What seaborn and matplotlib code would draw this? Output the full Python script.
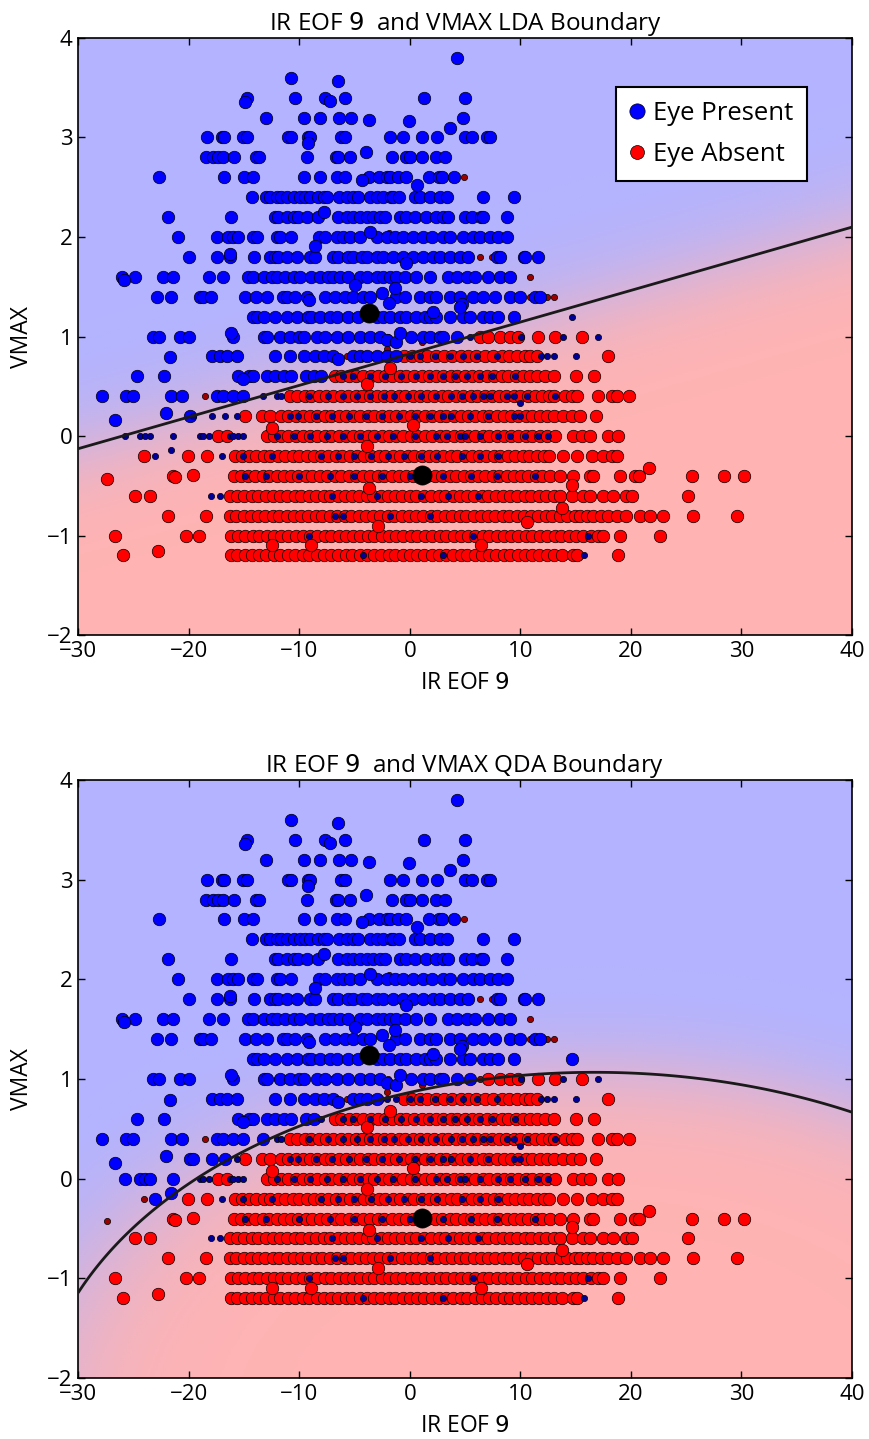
import numpy as np
import pandas as pd
import matplotlib
matplotlib.use("Agg")
import matplotlib.pyplot as plt
from matplotlib import colors
from matplotlib.lines import Line2D
import seaborn as sns

# ---------------------------------------------------------------------------
# Observations: standardised IR EOF 9 (x) against standardised VMAX (y).
# VMAX comes in steps of 0.2, so each class is stored row by row,
# plus a handful of points that sit between rows.
# ---------------------------------------------------------------------------
present_rows = {
    3.8: [4.3],
    3.6: [-10.7],
    3.4: [-14.7, -10.4, -7.7, -5.9, 1.3, 5.0],
    3.2: [-13.0, -9.6, -8.1, -6.4, -5.3, 4.8],
    3.0: [-18.3, -17.0, -16.8, -15.1, -14.7, -11.0, -10.7, -9.2, -9.0, -6.2, -5.9,
          -1.8, -0.6, 1.1, 2.5, 5.0, 5.6, 7.0, 7.3],
    2.8: [-18.4, -17.8, -17.3, -16.9, -15.9, -13.9, -13.6, -9.3, -6.7, -6.5, -5.4,
          -1.6, -0.3, 0.0, 1.1, 2.4, 3.2],
    2.6: [-22.7, -16.8, -15.0, -14.2, -9.6, -8.1, -6.6, -5.9, -3.7, -2.8, -2.1, -1.8,
          -1.1, -0.3, 1.7, 2.6, 2.9, 4.0],
    2.4: [-14.3, -13.0, -12.6, -12.0, -11.6, -11.1, -10.5, -9.9, -9.5, -9.0, -8.3,
          -7.8, -7.5, -6.4, -5.7, -5.1, -4.65, -3.6, -3.0, -2.4, -1.7, -1.5, -0.95,
          0.5, 0.9, 1.8, 2.7, 3.35, 6.65, 9.4],
    2.2: [-21.9, -16.2, -12.2, -11.9, -11.1, -10.5, -10.1, -9.3, -8.3, -6.45, -5.7,
          -5.1, -4.5, -3.9, -3.3, -2.7, -2.2, -0.9, -0.3, 0.5, 1.5, 2.4, 3.0, 3.5,
          5.0, 5.6, 6.4, 6.65, 8.8],
    2.0: [-21.0, -17.4, -16.4, -15.95, -15.5, -14.2, -13.85, -12.0, -11.7, -10.7,
          -8.2, -7.7, -6.6, -6.0, -5.4, -4.5, -3.0, -2.1, -1.35, -0.6, 0.3, 1.2, 2.0,
          3.0, 3.65, 4.85, 5.75, 6.35, 7.25, 8.0, 8.8],
    1.8: [-20.0, -17.4, -16.25, -14.1, -12.6, -12.2, -11.9, -11.1, -10.2, -9.0, -8.6,
          -6.9, -6.45, -5.55, -5.1, -4.35, -3.9, -3.0, -2.4, -1.5, -0.6, 0.3, 1.2, 2.1,
          2.7, 3.65, 4.55, 5.3, 7.85, 8.15, 10.3, 10.4, 11.6],
    1.6: [-26.05, -24.85, -22.3, -21.4, -18.2, -16.9, -14.6, -14.15, -13.2, -12.5,
          -12.0, -11.3, -10.5, -9.9, -8.9, -8.1, -7.4, -6.9, -6.3, -5.55, -4.5, -3.9,
          -3.0, -2.4, -1.8, -1.2, -0.45, 0.6, 1.8, 3.5, 4.25, 5.15, 5.9, 7.1, 8.15, 9.05],
    1.4: [-22.9, -21.6, -19.0, -18.7, -18.0, -14.9, -13.9, -12.9, -11.5, -11.1, -10.4,
          -9.3, -7.7, -6.8, -5.85, -5.1, -4.2, -3.6, -1.2, -0.45, 0.9, 1.8, 2.4, 3.65,
          4.55, 5.75, 6.65, 7.7, 9.05, 9.95, 11.3, 11.8],
    1.2: [-14.15, -13.85, -13.2, -12.2, -11.1, -10.2, -9.2, -8.9, -8.1, -7.2, -6.6,
          -5.55, -4.65, -3.0, -2.4, -1.8, -0.9, -0.3, 0.6, 1.4, 1.8, 2.4, 3.65, 4.85,
          5.45, 6.65, 7.25, 8.0, 9.4, 14.7],
    1.0: [-23.2, -22.65, -20.8, -20.0, -15.95, -13.2, -12.9, -11.7, -10.8, -10.05,
          -9.6, -8.4, -7.7, -6.6, -5.55, -4.5, -3.6, -2.7, 0.15, 1.2, 1.8, 2.7, 3.0,
          4.25, 5.45, 10.1, 13.9, 17.0],
    0.8: [-17.85, -17.15, -16.55, -15.65, -12.2, -10.8, -9.6, -8.6, -7.8, -6.9, -5.1,
          -4.5, -3.9, -3.0, -2.1, -1.2, 0.0, 0.9, 2.3, 3.65, 4.85, 6.05, 7.85, 11.9,
          12.4, 13.0, 15.0],
    0.6: [-24.7, -22.2, -15.5, -14.5, -14.15, -12.9, -12.2, -11.4, -10.7, -9.4, -8.7,
          -8.0, -6.0, -5.1, -3.6, -2.2, -0.8, 0.6, 1.8, 3.0, 4.1, 5.15, 6.35, 7.4, 9.5],
    0.4: [-27.8, -25.65, -25.0, -21.6, -20.6, -17.45, -16.85, -15.95, -15.05, -13.25,
          -12.0, -11.6, -9.1, -7.4, -6.0, -4.8, -3.6, -2.3, -1.4, -0.2, 1.0, 2.4, 3.75,
          4.7, 5.75, 6.65, 7.25, 8.8, 9.4, 10.6, 13.1],
    0.2: [-19.9, -19.6, -17.85, -16.7, -15.65, -10.8, -10.1, -8.5, -7.0, -5.5, -4.0,
          -2.5, -1.0, 0.5, 1.8, 3.0, 3.75, 5.45, 7.1, 9.4, 10.0],
    0.0: [-25.75, -24.4, -23.9, -23.5, -21.4, -19.0, -18.7, -18.2, -16.25, -15.95,
          -15.5, -15.05, -12.0, -10.5, -9.0, -7.5, -6.0, -4.5, -3.0, -1.5, 0.5, 2.4,
          3.35, 4.55, 5.0, 6.35, 8.0, 9.05, 10.4, 11.6, 12.5],
    -0.2: [-23.0, -17.0, -15.1, -12.5, -8.0, -6.5, -5.0, -3.5, -2.0, -0.5, 1.0, 2.5,
           4.7, 6.35, 8.0],
    -0.4: [-14.9, -13.0, -10.0, -7.2, -5.0, -2.5, 0.0, 3.0, 5.5, 7.85, 11.3],
    -0.6: [-18.0, -17.15, -7.0, -3.0, 1.0, 3.5, 6.2],
    -0.8: [-6.75, -6.0, -1.8, 1.8],
    -1.0: [-9.1, 5.75, 16.15],
    -1.2: [-4.2, 3.0, 15.8],
}
present_between = [
    (-6.5, 3.57), (-14.9, 3.36), (-7.2, 3.37), (-3.7, 3.18), (-0.1, 3.17), (3.6, 3.10),
    (-9.2, 2.94), (-4.0, 2.85), (-4.3, 2.57), (0.7, 2.52), (-7.8, 2.25), (-8.6, 1.91),
    (-3.6, 2.05), (-16.25, 1.83), (-0.3, 1.74), (-25.8, 1.57), (-4.95, 1.52),
    (-1.35, 1.49), (-9.1, 1.37), (-2.5, 1.44), (-1.9, 1.34), (4.7, 1.33), (4.55, 1.30),
    (2.1, 1.25), (-16.2, 1.04), (-2.1, 0.96), (-1.2, 0.94), (-0.9, 1.04),
    (-21.7, 0.79), (-6.45, 0.77), (-15.05, 0.57), (10.0, 0.33), (-26.7, 0.16),
    (-22.05, 0.23), (-21.6, -0.14),
]

absent_rows = {
    2.6: [4.9],
    1.8: [6.35, 7.4],
    1.6: [10.9],
    1.4: [10.9, 12.4, 13.0],
    1.2: [-5.5],
    1.0: [-12.0, -7.0, -2.0, 0.5, 3.0, 6.35, 7.1, 8.15, 9.05, 9.8, 11.6, 13.1, 15.6],
    0.8: [-8.9, -5.7, -2.6, -0.5, 0.2, 0.9, 1.6, 2.4, 3.1, 3.8, 4.6, 5.3, 6.0, 6.8, 7.5,
          8.3, 9.0, 9.7, 10.4, 10.9, 11.5, 17.9],
    0.6: [-6.8, -6.2, -5.5, -4.9, -4.2, -3.5, -2.9, -2.2, -1.6, -0.9, -0.3, 0.4, 1.1,
          1.7, 2.4, 3.0, 3.7, 4.3, 5.0, 5.6, 6.3, 7.0, 7.6, 8.3, 8.9, 9.6, 10.2, 10.9,
          11.5, 12.2, 13.0, 15.0, 16.7],
    0.4: [-18.5, -10.8, -10.2, -9.5, -8.9, -8.2, -7.6, -6.9, -6.2, -5.6, -4.9, -4.3,
          -3.6, -3.0, -2.3, -1.7, -1.0, -0.4, 0.3, 0.9, 1.6, 2.2, 2.9, 3.5, 4.2, 4.8,
          5.5, 6.1, 6.8, 7.4, 8.1, 8.7, 9.4, 10.0, 10.7, 11.3, 12.0, 12.6, 13.0, 14.0,
          14.65, 15.1, 17.05, 18.3, 18.7, 19.8],
    0.2: [-14.9, -13.4, -12.6, -11.6, -11.0, -10.3, -9.7, -9.0, -8.4, -7.7, -7.1, -6.4,
          -5.8, -5.1, -4.5, -3.8, -3.2, -2.5, -1.9, -1.2, -0.6, 0.1, 0.7, 1.4, 2.0, 2.7,
          3.3, 4.0, 4.6, 5.3, 5.9, 6.6, 7.2, 7.9, 8.5, 9.2, 9.8, 10.5, 11.1, 11.8, 12.4,
          13.0, 13.9, 14.65, 15.4, 16.85],
    0.0: [-17.3, -16.55, -12.9, -12.3, -11.6, -11.0, -10.3, -9.7, -9.0, -8.4, -7.7,
          -7.1, -6.4, -5.8, -5.1, -4.5, -3.8, -3.2, -2.5, -1.9, -1.2, -0.6, 0.1, 0.7,
          1.4, 2.0, 2.7, 3.3, 4.0, 4.6, 5.3, 5.9, 6.6, 7.2, 7.9, 8.5, 9.2, 9.8, 10.5,
          11.1, 11.8, 12.4, 13.1, 14.8, 15.55, 16.3, 17.9, 18.8],
    -0.2: [-24.0, -20.1, -18.3, -15.8, -15.2, -14.5, -13.9, -13.2, -12.6, -11.9, -11.3,
           -10.6, -10.0, -9.3, -8.7, -8.0, -7.4, -6.7, -6.1, -5.4, -4.8, -4.1, -3.5,
           -2.8, -2.2, -1.5, -0.9, -0.2, 0.4, 1.1, 1.7, 2.4, 3.0, 3.7, 4.3, 5.0, 5.6,
           6.3, 6.9, 7.6, 8.2, 8.9, 9.5, 10.2, 10.8, 11.5, 12.1, 12.6, 13.9, 15.1,
           16.5, 17.5, 18.3, 18.7],
    -0.4: [-21.4, -15.9, -15.3, -14.6, -14.0, -13.3, -12.7, -12.0, -11.4, -10.7, -10.1,
           -9.4, -8.8, -8.1, -7.5, -6.8, -6.2, -5.5, -4.9, -4.2, -3.6, -2.9, -2.3, -1.6,
           -1.0, -0.3, 0.3, 1.0, 1.6, 2.3, 2.9, 3.6, 4.2, 4.9, 5.5, 6.2, 6.8, 7.5, 8.1,
           8.8, 9.4, 10.1, 10.7, 11.4, 12.0, 12.7, 13.6, 14.8, 16.3, 16.6, 19.0, 20.4,
           20.7, 25.5, 28.4, 30.2],
    -0.6: [-24.85, -23.5, -16.3, -15.6, -15.0, -14.3, -13.7, -13.0, -12.4, -11.7,
           -11.1, -10.4, -9.8, -9.1, -8.5, -7.8, -7.2, -6.5, -5.9, -5.2, -4.6, -3.9,
           -3.3, -2.6, -2.0, -1.3, -0.7, 0.0, 0.6, 1.3, 1.9, 2.6, 3.2, 3.9, 4.5, 5.2,
           5.8, 6.5, 7.1, 7.8, 8.4, 9.1, 9.7, 10.4, 11.0, 11.7, 12.3, 13.0, 13.6, 14.65,
           15.7, 16.3, 17.5, 18.4, 19.6, 20.1, 25.2],
    -0.8: [-21.9, -18.4, -16.3, -15.7, -15.0, -14.4, -13.7, -13.1, -12.4, -11.8, -11.1,
           -10.5, -9.8, -9.2, -8.5, -7.9, -7.2, -6.6, -5.9, -5.3, -4.6, -4.0, -3.3,
           -2.7, -2.0, -1.4, -0.7, -0.1, 0.6, 1.2, 1.9, 2.5, 3.2, 3.8, 4.5, 5.1, 5.8,
           6.4, 7.1, 7.7, 8.4, 9.0, 9.7, 10.3, 11.0, 11.6, 12.3, 12.9, 13.6, 14.2, 14.9,
           15.4, 16.0, 16.6, 17.3, 17.9, 18.7, 19.6, 20.8, 21.7, 22.9, 25.65, 29.6],
    -1.0: [-26.65, -20.2, -19.1, -16.2, -15.5, -14.9, -14.2, -13.6, -12.9, -12.3,
           -11.6, -11.0, -10.3, -9.7, -9.0, -8.4, -7.7, -7.1, -6.4, -5.8, -5.1, -4.5,
           -3.8, -3.2, -2.5, -1.9, -1.2, -0.6, 0.1, 0.7, 1.4, 2.0, 2.7, 3.3, 4.0, 4.6,
           5.3, 5.9, 6.6, 7.2, 7.9, 8.5, 9.2, 9.8, 10.5, 11.1, 11.8, 12.4, 13.1, 13.7,
           14.4, 15.0, 15.7, 16.4, 17.0, 17.5, 19.0, 22.6],
    -1.2: [-25.95, -16.2, -15.6, -14.9, -14.3, -13.6, -13.0, -12.3, -11.7, -11.0,
           -10.4, -9.7, -9.1, -8.4, -7.8, -7.1, -6.5, -5.8, -5.2, -4.5, -3.9, -3.2,
           -2.6, -1.9, -1.3, -0.6, 0.0, 0.7, 1.3, 2.0, 2.6, 3.3, 3.9, 4.6, 5.2, 5.9,
           6.5, 7.2, 7.8, 8.5, 9.1, 9.8, 10.4, 11.1, 11.7, 12.4, 13.0, 13.8, 14.8,
           15.1, 18.8],
}
absent_between = [
    (-1.85, 2.04), (-11.1, 1.17), (-2.1, 0.87), (1.1, 0.94), (-3.9, 0.52),
    (-1.8, 0.68), (-12.5, 0.08), (-3.9, -0.10), (0.3, 0.11), (21.6, -0.32),
    (-27.4, -0.43), (-21.2, -0.41), (-19.6, -0.39), (14.65, -0.49), (-3.7, -0.52),
    (13.75, -0.72), (10.6, -0.86), (-2.9, -0.9), (-22.8, -1.16), (-12.5, -1.10),
    (-8.9, -1.10), (6.4, -1.1),
]

# Gaussian class model (eye present = 1, eye absent = 0)
mean_present = np.array([-3.72, 1.24])
mean_absent = np.array([1.08, -0.39])
prior_present, prior_absent = 0.2, 0.8
cov_present = np.array([[55.0, 0.0], [0.0, 0.691]])
cov_absent = np.array([[42.1, 0.0], [0.0, 0.390]])
cov_pooled = np.array([[45.0, 0.186], [0.186, 0.429]])

x_ticks = [-30, -20, -10, 0, 10, 20, 30, 40]
y_ticks = [-2, -1, 0, 1, 2, 3, 4]
legend_labels = ["Eye Present", "Eye Absent"]


def rows_to_frame(rows, between, label):
    xs, ys = [], []
    for level, xlist in rows.items():
        xs.extend(xlist)
        ys.extend([level] * len(xlist))
    for x, y in between:
        xs.append(x)
        ys.append(y)
    return pd.DataFrame({"ir_eof9": xs, "vmax": ys, "eye": label})


df = pd.concat([rows_to_frame(absent_rows, absent_between, 0),
                rows_to_frame(present_rows, present_between, 1)],
               ignore_index=True)


def log_gauss(pts, mean, cov):
    diff = pts - mean
    inv = np.linalg.inv(cov)
    maha = np.einsum("ij,jk,ik->i", diff, inv, diff)
    return -0.5 * maha - 0.5 * np.log(np.linalg.det(cov)) - np.log(2 * np.pi)


def prob_present(pts, kind):
    if kind == "LDA":
        cp = ca = cov_pooled
    else:
        cp, ca = cov_present, cov_absent
    lp = log_gauss(pts, mean_present, cp) + np.log(prior_present)
    la = log_gauss(pts, mean_absent, ca) + np.log(prior_absent)
    return 1.0 / (1.0 + np.exp(np.clip(la - lp, -50, 50)))


cmap = colors.LinearSegmentedColormap(
    "red_blue_classes",
    {"red": [(0, 1, 1), (1, 0.7, 0.7)],
     "green": [(0, 0.7, 0.7), (1, 0.7, 0.7)],
     "blue": [(0, 0.7, 0.7), (1, 1, 1)]})

sns.set_theme(style="white")
plt.rcParams.update({
    "font.family": ["Open Sans", "DejaVu Sans"],
    "mathtext.fontset": "dejavusans",
    "xtick.direction": "in", "ytick.direction": "in",
    "xtick.top": True, "ytick.right": True,
    "xtick.bottom": True, "ytick.left": True,
    "xtick.major.size": 5, "ytick.major.size": 5,
    "xtick.major.width": 1.0, "ytick.major.width": 1.0,
    "xtick.major.pad": 4, "ytick.major.pad": 4,
    "axes.edgecolor": "black", "axes.linewidth": 1.2,
    "xtick.color": "black", "ytick.color": "black",
    "text.color": "black", "axes.labelcolor": "black",
})

fig = plt.figure(figsize=(8.69, 14.39), dpi=100)
ax_lda = fig.add_axes([0.0898, 0.5587, 0.8907, 0.4149])
ax_qda = fig.add_axes([0.0898, 0.0424, 0.8907, 0.4156])

gx, gy = np.meshgrid(np.linspace(-30, 40, 351), np.linspace(-2, 4, 301))
grid = np.c_[gx.ravel(), gy.ravel()]
pts = df[["ir_eof9", "vmax"]].to_numpy()

SIZE = 81
for ax, kind in [(ax_lda, "LDA"), (ax_qda, "QDA")]:
    pred = prob_present(pts, kind) > 0.5
    truth = df["eye"].to_numpy() == 1
    groups = [
        (~truth & ~pred, "o", "red"),
        (~truth & pred, ".", "#990000"),
        (truth & pred, "o", "blue"),
        (truth & ~pred, ".", "#000099"),
    ]
    for mask, marker, col in groups:
        sns.scatterplot(data=df[mask], x="ir_eof9", y="vmax", marker=marker,
                        color=col, s=SIZE, edgecolor="black", linewidth=0.5,
                        legend=False, ax=ax, zorder=2)

    Z = prob_present(grid, kind).reshape(gx.shape)
    ax.pcolormesh(gx, gy, Z, cmap=cmap, norm=colors.Normalize(0.0, 1.0),
                  shading="gouraud", zorder=0, rasterized=True)
    ax.contour(gx, gy, Z, [0.5], linewidths=2.0, colors="k", zorder=3)

    means = pd.DataFrame({"ir_eof9": [mean_present[0], mean_absent[0]],
                          "vmax": [mean_present[1], mean_absent[1]]})
    sns.scatterplot(data=means, x="ir_eof9", y="vmax", color="black", s=190,
                    edgecolor="black", linewidth=0.5, legend=False, ax=ax, zorder=4)

    ax.set_xlim(-30, 40)
    ax.set_ylim(-2, 4)
    ax.set_xticks(x_ticks)
    ax.set_yticks(y_ticks)
    ax.tick_params(labelsize=16)
    ax.set_xlabel(r"IR EOF $9$", fontsize=16.5, labelpad=7)
    ax.set_ylabel("VMAX", fontsize=16.5, labelpad=9)
    ax.set_title(r"IR EOF $9$  and VMAX " + kind + " Boundary", fontsize=17.5, pad=5)
    for sp in ax.spines.values():
        sp.set_visible(True)
        sp.set_color("black")

handles = [Line2D([], [], marker="o", linestyle="", color="blue",
                  markeredgecolor="black", markeredgewidth=0.5, markersize=11),
           Line2D([], [], marker="o", linestyle="", color="red",
                  markeredgecolor="black", markeredgewidth=0.5, markersize=10)]
leg = ax_lda.legend(handles, legend_labels, loc="upper right",
                    bbox_to_anchor=(0.942, 0.918), borderaxespad=0.0,
                    fontsize=18.5, frameon=True, fancybox=False, framealpha=1.0,
                    edgecolor="black", handlelength=0.6, handletextpad=0.3,
                    borderpad=0.55, labelspacing=0.62)
leg.get_frame().set_linewidth(1.5)

fig.savefig("out.png", dpi=100)
